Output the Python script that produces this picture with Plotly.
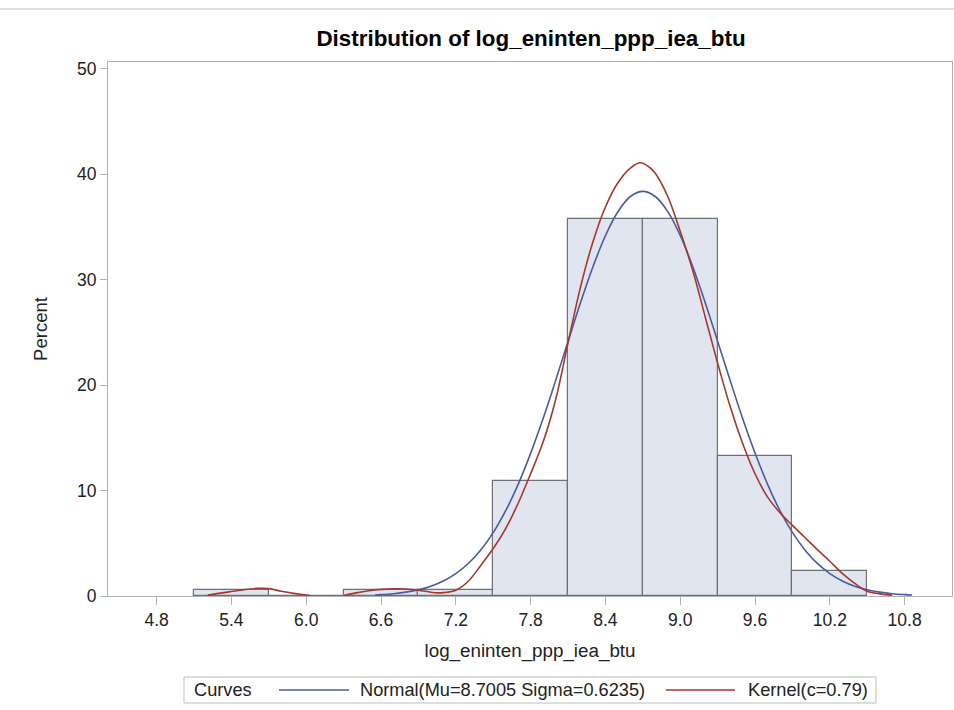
import plotly.graph_objects as go

# ---------------- data ----------------
bin_centers = [5.4, 6.0, 6.6, 7.2, 7.8, 8.4, 9.0, 9.6, 10.2]
bin_percent = [0.57, 0.0, 0.57, 0.57, 10.9, 35.8, 35.8, 13.3, 2.37]
bin_width = 0.6

normal_x = [6.55, 6.6, 6.7, 6.8, 6.9, 7.0, 7.1, 7.2, 7.3, 7.4, 7.5, 7.6, 7.7, 7.8,
            7.9, 8.0, 8.1, 8.2, 8.3, 8.4, 8.5, 8.6, 8.7, 8.8, 8.9, 9.0, 9.1, 9.2,
            9.3, 9.4, 9.5, 9.6, 9.7, 9.8, 9.9, 10.0, 10.1, 10.2, 10.3, 10.4, 10.5,
            10.6, 10.7, 10.8, 10.86]
normal_y = [0.10, 0.13, 0.22, 0.37, 0.59, 0.93, 1.42, 2.12, 3.08, 4.36, 6.01, 8.09,
            10.59, 13.53, 16.83, 20.42, 24.14, 27.81, 31.23, 34.18, 36.45, 37.90,
            38.39, 37.90, 36.47, 34.22, 31.26, 27.85, 24.17, 20.46, 16.86, 13.56,
            10.62, 8.10, 6.03, 4.37, 3.09, 2.13, 1.43, 0.93, 0.60, 0.37, 0.22, 0.13,
            0.09]

kernel_x = [5.21, 5.3, 5.4, 5.5, 5.6, 5.7, 5.8, 5.9, 6.0, 6.03, None,
            6.3, 6.4, 6.5, 6.6, 6.7, 6.8, 6.9, 7.0, 7.05, 7.1, 7.2, 7.3, 7.4, 7.5,
            7.6, 7.7, 7.8, 7.9, 8.0, 8.1, 8.2, 8.3, 8.4, 8.5, 8.6, 8.68, 8.75, 8.8,
            8.9, 9.0, 9.1, 9.2, 9.3, 9.4, 9.5, 9.6, 9.7, 9.8, 9.9, 10.0, 10.1, 10.2,
            10.3, 10.4, 10.5, 10.6, 10.7]
kernel_y = [0.08, 0.25, 0.42, 0.6, 0.72, 0.7, 0.45, 0.25, 0.1, 0.05, None,
            0.05, 0.3, 0.5, 0.63, 0.68, 0.66, 0.55, 0.36, 0.3, 0.32, 0.55, 1.4, 2.9,
            4.5, 6.4, 8.8, 11.6, 14.6, 18.6, 24.0, 29.3, 33.6, 36.9, 39.2, 40.6, 41.1,
            40.7, 40.1, 37.9, 34.6, 30.9, 26.5, 22.1, 18.0, 14.5, 11.6, 9.4, 7.9,
            6.7, 5.55, 4.4, 3.3, 2.15, 1.2, 0.45, 0.2, 0.08]

x_ticks = [4.8, 5.4, 6.0, 6.6, 7.2, 7.8, 8.4, 9.0, 9.6, 10.2, 10.8]
y_ticks = [0, 10, 20, 30, 40, 50]

title_text = "Distribution of log_eninten_ppp_iea_btu"
x_title = "log_eninten_ppp_iea_btu"
y_title = "Percent"
legend_title = "Curves"
normal_label = "Normal(Mu=8.7005 Sigma=0.6235)"
kernel_label = "Kernel(c=0.79)"

# ---------------- styling ----------------
W, H = 954, 710
L, R, T, B = 108, 952, 62, 596   # plot frame in pixels
FONT = "Liberation Sans, Arial, sans-serif"
BLUE = "#4A5BA0"
RED = "#A5382C"
FRAME = "#AEB3B7"
TXT = "#222222"

def px_x(p):
    return (p - L) / (R - L)

def px_y(p):
    return (B - p) / (B - T)

fig = go.Figure()
fig.add_trace(go.Bar(
    x=bin_centers, y=bin_percent, width=bin_width,
    marker=dict(color="#E0E5EF", line=dict(color="#6E7276", width=1.2)),
    showlegend=False, hoverinfo="x+y",
))
fig.add_trace(go.Scatter(
    x=normal_x, y=normal_y, mode="lines", line=dict(color=BLUE, width=1.6, shape="spline"),
    showlegend=False, name=normal_label,
))
fig.add_trace(go.Scatter(
    x=kernel_x, y=kernel_y, mode="lines", line=dict(color=RED, width=1.6, shape="spline"),
    showlegend=False, name=kernel_label, connectgaps=False,
))

fig.update_layout(
    width=W, height=H,
    margin=dict(l=L, r=W - R, t=T, b=H - B, pad=0),
    paper_bgcolor="white", plot_bgcolor="white",
    font=dict(family=FONT, size=17, color=TXT),
    bargap=0,
    title=dict(text="<b>" + title_text + "</b>", x=px_x(531), xref="paper", xanchor="center",
               y=1 - 38 / H, yref="container", yanchor="middle",
               font=dict(family=FONT, size=22.4, color="#000000")),
    xaxis=dict(range=[4.41, 11.18], tickvals=x_ticks,
               ticktext=[f"{v:.1f}" for v in x_ticks],
               showline=True, mirror=True, linecolor=FRAME, linewidth=1,
               ticks="outside", ticklen=8, tickcolor=FRAME, tickwidth=1,
               showgrid=False, zeroline=False, automargin=False,
               tickfont=dict(size=17.5, color=TXT),
               title=dict(text=x_title, standoff=14, font=dict(size=18.8, color=TXT))),
    yaxis=dict(range=[0, 50.66], tickvals=y_ticks,
               showline=True, mirror=True, linecolor=FRAME, linewidth=1,
               ticks="outside", ticklen=7, tickcolor=FRAME, tickwidth=1,
               showgrid=False, zeroline=False, automargin=False,
               tickfont=dict(size=17.5, color=TXT),
               title=dict(text=y_title, standoff=24, font=dict(size=18.5, color=TXT))),
)

# faint page border at top
fig.add_shape(type="line", xref="paper", yref="paper",
              x0=px_x(0), x1=px_x(W), y0=px_y(9), y1=px_y(9),
              line=dict(color="#D4D4D4", width=1.5))

# custom legend box beneath the plot
fig.add_shape(type="rect", xref="paper", yref="paper",
              x0=px_x(184), x1=px_x(876), y0=px_y(677), y1=px_y(703),
              line=dict(color="#BDBDBD", width=1), fillcolor="white")
leg_y = px_y(690)
fig.add_shape(type="line", xref="paper", yref="paper",
              x0=px_x(279), x1=px_x(349), y0=leg_y, y1=leg_y,
              line=dict(color=BLUE, width=1.6))
fig.add_shape(type="line", xref="paper", yref="paper",
              x0=px_x(666), x1=px_x(735), y0=leg_y, y1=leg_y,
              line=dict(color=RED, width=1.6))
for txt, xp in [(legend_title, 192), (normal_label, 358), (kernel_label, 746)]:
    fig.add_annotation(text=txt, xref="paper", yref="paper", x=px_x(xp), y=leg_y,
                       xanchor="left", yanchor="middle", showarrow=False,
                       font=dict(family=FONT, size=18.2, color=TXT))

fig.write_html("out.html")
